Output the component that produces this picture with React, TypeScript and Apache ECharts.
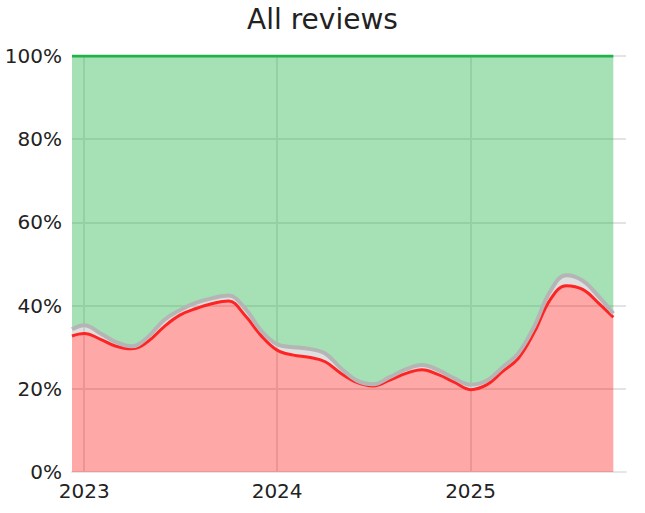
import { useEffect, useRef } from "react";
import * as echarts from "echarts";

const dates = [
  "2022-12-09", "2023-01-01", "2023-02-01", "2023-03-01", "2023-04-01", "2023-05-01",
  "2023-06-01", "2023-07-01", "2023-08-01", "2023-09-01", "2023-10-01", "2023-11-01",
  "2023-12-01", "2024-01-01", "2024-02-01", "2024-03-01", "2024-04-01", "2024-05-01",
  "2024-06-01", "2024-07-01", "2024-08-01", "2024-09-01", "2024-10-01", "2024-11-01",
  "2024-12-01", "2025-01-01", "2025-02-01", "2025-03-01", "2025-04-01", "2025-05-01",
  "2025-06-01", "2025-07-01", "2025-08-01", "2025-09-01", "2025-09-28"
];

// share of reviews per sentiment, in %
const negative = [
  32.7, 33.3, 31.9, 30.3, 29.6, 31.3, 34.9, 37.7, 39.3, 40.5, 41.1, 37.7,
  32.9, 29.3, 28.1, 27.6, 26.5, 23.7, 21.5, 20.7, 22.1, 23.7, 24.6, 23.4,
  21.6, 19.8, 21.0, 24.0, 27.3, 33.5, 41.5, 44.8, 43.9, 40.5, 37.2
];
const neutral = [
  1.6, 2.0, 1.4, 1.0, 0.6, 1.1, 1.6, 1.2, 1.4, 1.3, 1.3, 1.7,
  1.2, 1.4, 1.9, 2.0, 2.0, 1.2, 0.4, 0.4, 0.7, 1.0, 1.1, 1.1,
  0.9, 1.2, 1.0, 1.0, 1.2, 1.4, 2.0, 2.5, 2.1, 1.6, 0.9
];
const positive = [
  65.7, 64.7, 66.7, 68.7, 69.8, 67.6, 63.5, 61.1, 59.3, 58.2, 57.6, 60.6,
  65.9, 69.3, 70.0, 70.4, 71.5, 75.1, 78.1, 78.9, 77.2, 75.3, 74.3, 75.5,
  77.5, 79.0, 78.0, 75.0, 71.5, 65.1, 56.5, 52.7, 54.0, 57.9, 61.9
];

const yearTicks = ["2023-01-01", "2024-01-01", "2025-01-01"];
const axisStart = "2022-12-09";
const axisEnd = "2025-10-22";

const FONT = "'DejaVu Sans', sans-serif";

function ts(d: string): number {
  return new Date(d + "T00:00:00").getTime();
}

export default function App() {
  const ref = useRef<HTMLDivElement | null>(null);

  useEffect(() => {
    if (!ref.current) return;
    const chart = echarts.init(ref.current, undefined, { renderer: "svg" });

    // value first so the stack runs along y; x is read from the second column
    const mk = (
      name: string,
      vals: number[],
      line: string,
      fill: string,
      width: number
    ) => ({
      name,
      type: "line",
      stack: "all",
      smooth: 0.4,
      showSymbol: false,
      encode: { x: 1, y: 0 },
      data: dates.map((d, i) => [vals[i], ts(d)]),
      lineStyle: { color: line, width },
      itemStyle: { color: line },
      areaStyle: { color: fill, opacity: 1 }
    });

    const yearValues = yearTicks.map(ts);

    chart.setOption({
      animation: false,
      textStyle: { fontFamily: FONT },
      title: {
        text: "All reviews",
        left: "center",
        top: 0,
        textStyle: { fontSize: 28, fontWeight: "normal", color: "#222", fontFamily: FONT }
      },
      grid: { left: 72, right: 19, top: 56, bottom: 41 },
      xAxis: {
        type: "value",
        min: ts(axisStart),
        max: ts(axisEnd),
        axisLine: { show: true, lineStyle: { color: "#e6e6e6", width: 2 } },
        axisTick: { show: false, customValues: yearValues },
        axisLabel: {
          customValues: yearValues,
          formatter: (v: number) => String(new Date(v).getFullYear()),
          fontSize: 20,
          color: "#222",
          margin: 9,
          fontFamily: FONT
        },
        splitLine: {
          show: true,
          lineStyle: { color: "#e3e3e3", width: 2 }
        }
      },
      yAxis: {
        type: "value",
        min: 0,
        max: 100,
        interval: 20,
        axisLine: { show: false },
        axisTick: { show: false },
        axisLabel: {
          formatter: "{value}%",
          fontSize: 20,
          color: "#222",
          margin: 10,
          fontFamily: FONT
        },
        splitLine: { lineStyle: { color: "#e3e3e3", width: 2 } }
      },
      series: [
        mk("Negative", negative, "#ff2424", "rgba(255, 0, 0, 0.34)", 3),
        mk("Neutral", neutral, "#b5b5b5", "rgba(150, 150, 150, 0.3)", 4),
        mk("Positive", positive, "#22b24a", "rgba(30, 180, 70, 0.4)", 3)
      ]
    });

    return () => chart.dispose();
  }, []);

  return (
    <div
      ref={ref}
      style={{ position: "absolute", left: 0, top: 0, width: 645, height: 513 }}
    />
  );
}
